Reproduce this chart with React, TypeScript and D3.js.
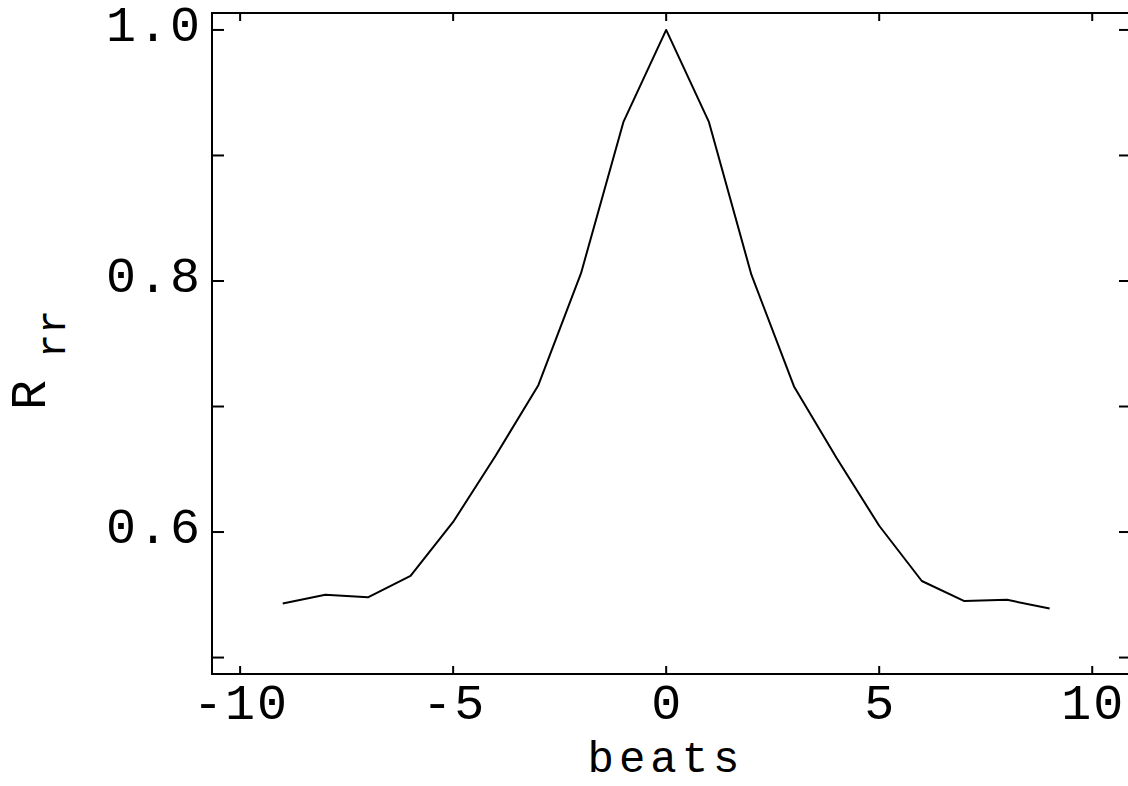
import React from "react";
import * as d3 from "d3";

// Autocorrelation of RR intervals against lag in beats
const lags = [-9, -8, -7, -6, -5, -4, -3, -2, -1, 0, 1, 2, 3, 4, 5, 6, 7, 8, 9];
const rrCorr = [
  0.543, 0.55, 0.548, 0.565, 0.608, 0.661, 0.717, 0.806, 0.927, 1.0,
  0.927, 0.805, 0.716, 0.659, 0.605, 0.561, 0.545, 0.546, 0.539,
];
const xTicks = [-10, -5, 0, 5, 10];
const yTicksMajor = [0.6, 0.8, 1.0];
const yTicksAll = [0.5, 0.6, 0.7, 0.8, 0.9, 1.0];

const W = 1128;
const H = 786;
const left = 212;
const right = 1131;
const top = 13;
const bottom = 674;
const FONT = "'Liberation Mono', 'Courier New', monospace";
const FS = 50;
const LS = 2;

export default function App() {
  const x = d3.scaleLinear().domain([-10.66, 10.91]).range([left, right]);
  const y = d3.scaleLinear().domain([0.4869, 1.0135]).range([bottom, top]);
  const line = d3
    .line<number>()
    .x((_, i) => x(lags[i]))
    .y((d) => y(d));

  return (
    <svg
      width={W}
      height={H}
      style={{ position: "absolute", left: 0, top: 0, background: "#fff" }}
    >
      <rect x={left} y={top} width={right - left} height={bottom - top} fill="none" stroke="#000" strokeWidth={2} />
      {xTicks.map((t) => (
        <g key={"x" + t}>
          <line x1={x(t)} x2={x(t)} y1={bottom} y2={bottom - 8} stroke="#000" strokeWidth={2} />
          <line x1={x(t)} x2={x(t)} y1={top} y2={top + 8} stroke="#000" strokeWidth={2} />
          <text x={x(t) + LS / 2} y={719} textAnchor="middle" fontFamily={FONT} fontSize={FS} letterSpacing={LS} fill="#000">
            {t}
          </text>
        </g>
      ))}
      {yTicksAll.map((t) => (
        <g key={"y" + t}>
          <line x1={left} x2={left + 12} y1={y(t)} y2={y(t)} stroke="#000" strokeWidth={2} />
          <line x1={right} x2={right - 12} y1={y(t)} y2={y(t)} stroke="#000" strokeWidth={2} />
        </g>
      ))}
      {yTicksMajor.map((t) => (
        <text key={"yl" + t} x={202} y={y(t) + 11} textAnchor="end" fontFamily={FONT} fontSize={FS} letterSpacing={LS} fill="#000">
          {t.toFixed(1)}
        </text>
      ))}
      <path d={line(rrCorr) || ""} fill="none" stroke="#000" strokeWidth={2} strokeLinejoin="round" />
      <text x={666} y={772} textAnchor="middle" fontFamily={FONT} fontSize={44} letterSpacing={5} fill="#000">
        beats
      </text>
      <text transform="translate(45,410) rotate(-90)" fontFamily={FONT} fontSize={FS} fill="#000">
        R
        <tspan dx={22} dy={20} fontSize={40}>
          rr
        </tspan>
      </text>
    </svg>
  );
}
